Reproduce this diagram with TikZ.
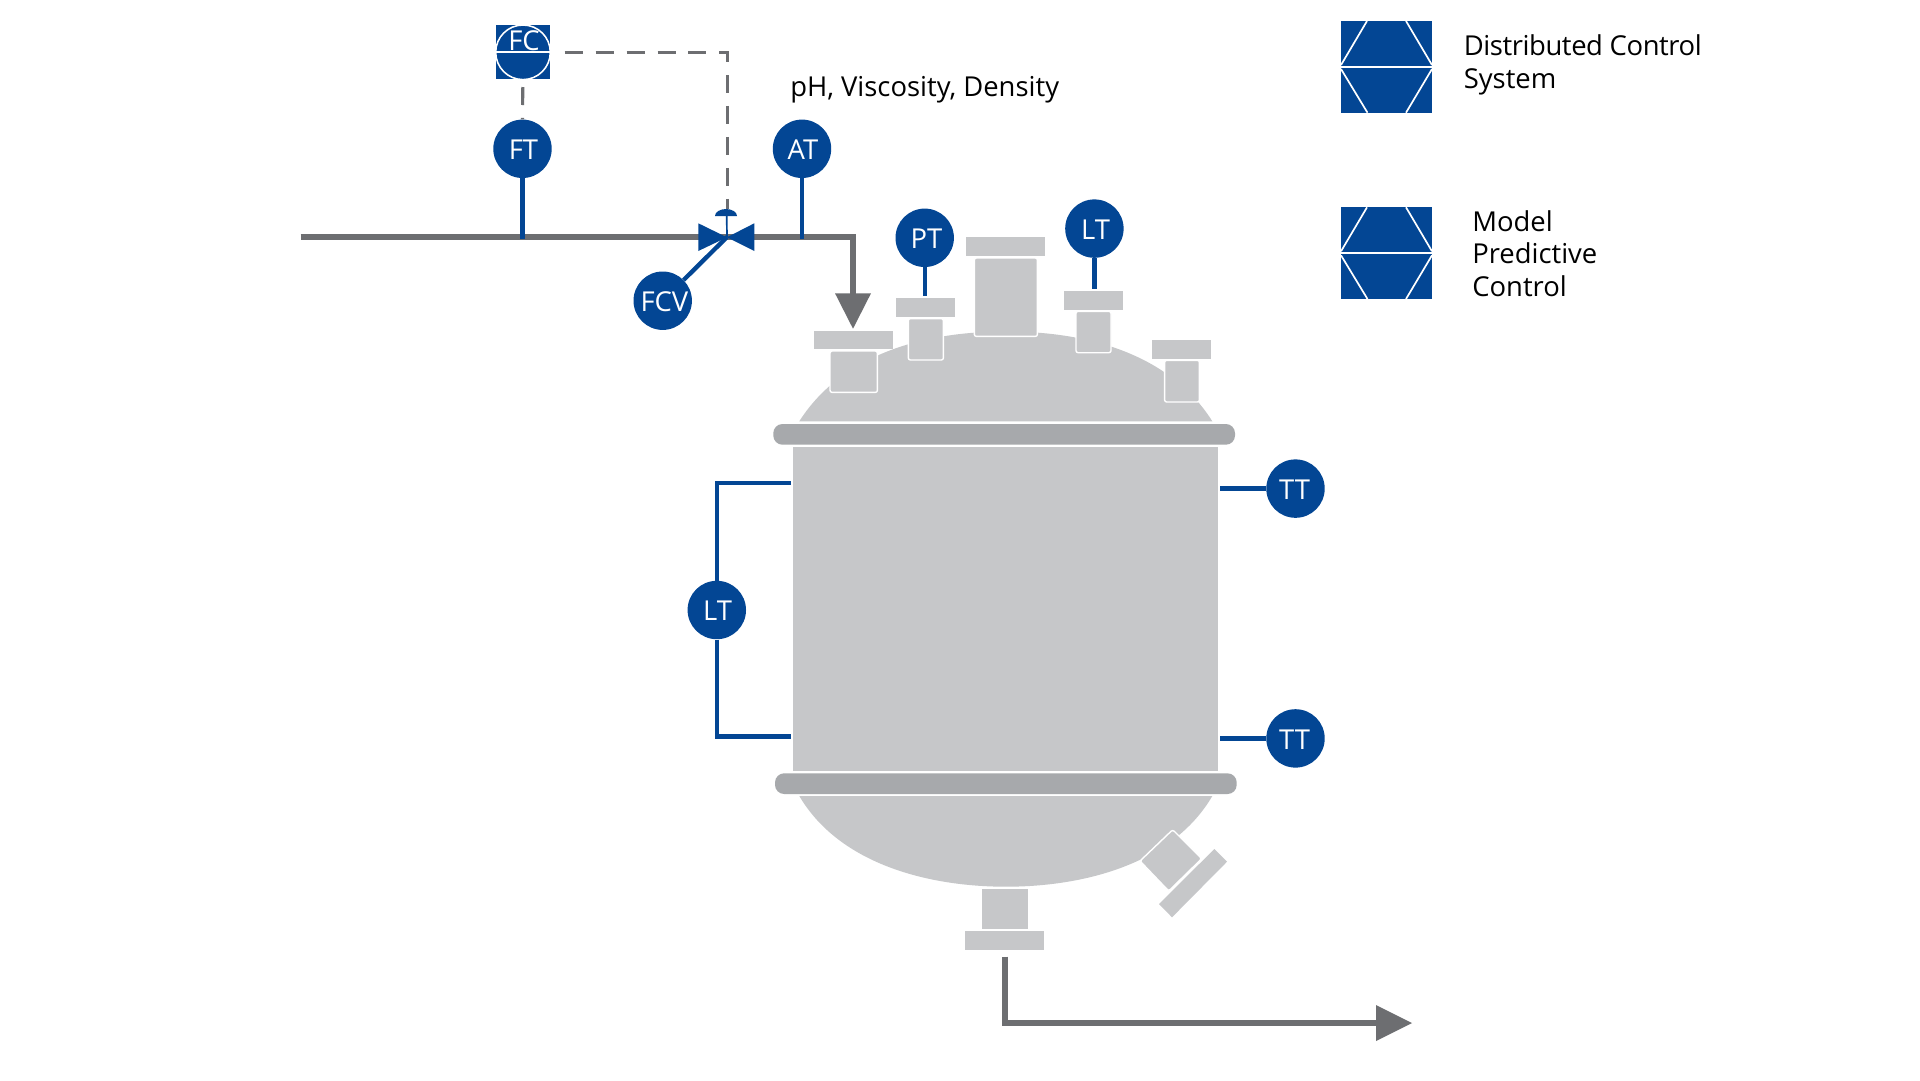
\documentclass[tikz,border=0pt]{standalone}
\usepackage{fontspec}
\setmainfont{Open Sans}
\definecolor{ablue}{HTML}{034694}
\definecolor{apipe}{HTML}{6D6E71}
\definecolor{avessel}{HTML}{C6C7C9}
\definecolor{aband}{HTML}{A7A9AC}
\tikzset{
  inst/.style={circle,fill=ablue,minimum size=1.46cm,inner sep=0pt,text=white,text height=15.5pt,text depth=0pt,font=\fontsize{19.5}{23}\selectfont},
  sig/.style={draw=ablue,line width=3.1pt},
  pipe/.style={draw=apipe,line width=4.3pt,miter limit=10},
  dsh/.style={draw=apipe,line width=2.2pt,dash pattern=on 12.8pt off 9.2pt},
  arrowhd/.style={fill=apipe},
  vessel/.style={fill=avessel},
  neck/.style={fill=avessel,draw=white,line width=1pt,rounded corners=1.5pt},
  band/.style={fill=aband,rounded corners=6.5pt},
  hexl/.style={draw=white,line width=1.2pt},
  lbl/.style={anchor=base west,inner sep=0pt,text=black,font=\fontsize{19.5}{23}\selectfont},
}
\begin{document}
\begin{tikzpicture}[x=0.025cm,y=-0.025cm]
\path[use as bounding box,fill=white] (0,0) rectangle (1920,1080);

% vessel
\fill[vessel] (799.3,421.3) .. controls (835,365) and (905,331.5) .. (1006,331.5)
   .. controls (1107,331.5) and (1177,365) .. (1212.3,421.3) -- cycle;
\fill[vessel] (799.3,796) .. controls (840,865) and (930,886.7) .. (1006,886.7)
   .. controls (1082,886.7) and (1172,865) .. (1212.3,796) -- cycle;
\fill[vessel] (793.3,447) rectangle (1218.3,770.7);
\fill[band] (773.3,424) rectangle (1235,444.7);
\fill[band] (775,773.3) rectangle (1236.7,794);

% top nozzles
\draw[neck] (830,351) rectangle (877.4,392.4);
\fill[vessel] (813.5,330.7) rectangle (892.7,349.3);
\draw[neck] (908.3,318.6) rectangle (943.4,360);
\fill[vessel] (896,298.3) rectangle (955,317.3);
\draw[neck] (974.3,258) rectangle (1037.4,336.4);
\fill[vessel] (966,237.3) rectangle (1045,256.3);
\draw[neck] (1076,311.3) rectangle (1111,352.7);
\fill[vessel] (1064.3,291) rectangle (1122.7,310);
\draw[neck] (1164.6,360.3) rectangle (1199.4,402);
\fill[vessel] (1152.3,340) rectangle (1211.3,359);

% bottom nozzles
\fill[vessel] (982,889.3) rectangle (1027.7,929);
\fill[vessel] (965,931.3) rectangle (1044.3,950.3);
\draw[neck] (1172.7,829.7) -- (1201.7,858.7) -- (1168.7,891) -- (1140,861) -- cycle;
\fill[vessel] (1214.3,849) -- (1227,861.7) -- (1172,917.3) -- (1159,904) -- cycle;

% named connection points
\coordinate (pipeA) at (300.6,236.6);
\coordinate (pipeB) at (853.3,236.6);
\coordinate (pipeC) at (853.3,295);
\coordinate (outA) at (1005,956.7);
\coordinate (outB) at (1005,1023);
\coordinate (outC) at (1378,1023);
\coordinate (ftj) at (522.5,238.5);
\coordinate (atj) at (802,238.5);
\coordinate (valve) at (727,237);
\coordinate (ptj) at (924.7,296);
\coordinate (ltj) at (1094.4,289);
\coordinate (tt1j) at (1220.3,488.6);
\coordinate (tt2j) at (1220.3,738.4);
\coordinate (ltA) at (791,483);
\coordinate (ltB) at (716.8,483);
\coordinate (ltC) at (716.8,736.5);
\coordinate (ltD) at (791,736.5);
\coordinate (fcR) at (564.7,52.3);
\coordinate (dshC) at (727.6,52.3);
\coordinate (dshE) at (727.6,209);
\coordinate (fcB) at (522.8,87);

% pipes
\draw[pipe] (pipeA) -- (pipeB) -- (pipeC);
\fill[arrowhd] (835,293.3) -- (871,293.3) -- (853,328.7) -- cycle;
\draw[pipe] (outA) -- (outB) -- (outC);
\fill[arrowhd] (1376,1005) -- (1412,1023) -- (1376,1041) -- cycle;

% instruments
\node[inst] (FT) at (522.5,148.8) {\kern1.4pt FT};
\node[inst] (AT) at (802,148.8) {\kern1.4pt AT};
\node[inst] (FCV) at (662.7,300.7) {\kern2.4pt FCV};
\node[inst] (PT) at (924.7,237.8) {\kern2.4pt PT};
\node[inst] (LTa) at (1094.4,228.6) {\kern1.6pt LT};
\node[inst] (TTa) at (1295.5,488.6) {\kern-1.4pt TT};
\node[inst] (TTb) at (1295.5,738.4) {\kern-1.4pt TT};
\node[inst] (LTb) at (716.8,610) {\kern1pt LT};

\draw[sig] (FT) -- (ftj);
\draw[sig] (AT) -- (atj);
\draw[sig] (PT) -- (ptj);
\draw[sig] (LTa) -- (ltj);
\draw[sig] (FCV) -- (valve);
\draw[sig] (tt1j) -- (TTa);
\draw[sig] (tt2j) -- (TTb);
\draw[sig] (ltA) -- (ltB) -- (LTb);
\draw[sig] (LTb) -- (ltC) -- (ltD);

% valve
\fill[ablue] (698.3,223.3) -- (726.9,237.3) -- (698.3,251) -- cycle;
\fill[ablue] (754.3,223.3) -- (726.9,237.3) -- (754.3,251) -- cycle;
\fill[ablue] (715,216) arc[start angle=180,end angle=360,x radius=11,y radius=7] -- cycle;
\draw[ablue,line width=1.2pt] (726.7,216) -- (valve);

% FC controller
\fill[ablue] (496,25) rectangle (550,79);
\draw[white,line width=1.1pt,fill=ablue] (523,52.3) circle[radius=27.3];
\draw[hexl] (496,52.3) -- (550,52.3);
\node[text=white,inner sep=0pt,font=\fontsize{19.5}{22}\selectfont] (FC) at (524,41) {FC};
\draw[dsh] (fcR) -- (dshC) -- (dshE);
\draw[dsh] (fcB) -- (FT.north);

% legend
\fill[ablue] (1340.7,21) rectangle (1432.3,112.7);
\draw[hexl] (1340.7,67) -- (1432.3,67);
\draw[hexl] (1341,65) -- (1367,21) (1406,21) -- (1432,65) (1341,69) -- (1367.5,112.7) (1432,69) -- (1406,112.7);
\fill[ablue] (1340.7,207.3) rectangle (1432.3,299);
\draw[hexl] (1340.7,253.3) -- (1432.3,253.3);
\draw[hexl] (1341,251.3) -- (1367,207.3) (1406,207.3) -- (1432,251.3) (1341,255.3) -- (1367.5,299) (1432,255.3) -- (1406,299);

% labels
\node[lbl] (t1) at (790,96.7) {pH, Viscosity, Density};
\node[lbl] (t2) at (1463.5,55) {\addfontfeature{LetterSpace=-1.5}Distributed Control};
\node[lbl] (t3) at (1463.5,88) {System};
\node[lbl] (t4) at (1472,231) {Model};
\node[lbl] (t5) at (1472,263.5) {Predictive};
\node[lbl] (t6) at (1472,296) {Control};
\end{tikzpicture}
\end{document}
